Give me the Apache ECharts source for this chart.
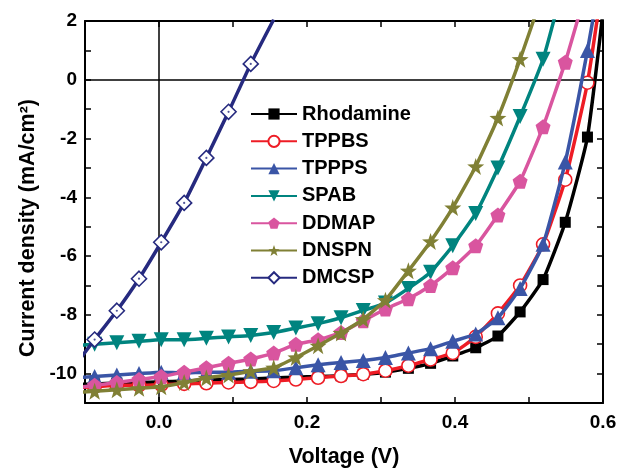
<!DOCTYPE html>
<html>
<head>
<meta charset="utf-8">
<script src="https://cdn.jsdelivr.net/npm/echarts@6/dist/echarts.min.js"></script>
<style>
html,body{margin:0;padding:0;background:#fff;}
#chart{width:619px;height:468px;}
</style>
</head>
<body>
<div id="chart"></div>
<script>
// Voltage sample points (V)
const voltage = [-0.117, -0.087, -0.057, -0.027, 0.003, 0.034, 0.064, 0.094, 0.124, 0.155, 0.185, 0.215, 0.246, 0.276, 0.306, 0.337, 0.367, 0.397, 0.428, 0.458, 0.488, 0.519, 0.549, 0.579, 0.609];
// Current density (mA/cm2) per dye
const rhodamine = [-10.37, -10.35, -10.32, -10.3, -10.28, -10.25, -10.22, -10.2, -10.18, -10.15, -10.12, -10.1, -10.07, -10.02, -9.95, -9.82, -9.65, -9.4, -9.12, -8.72, -7.9, -6.8, -4.85, -1.95, 4.3];
const tppbs = [-10.47, -10.45, -10.4, -10.4, -10.38, -10.35, -10.33, -10.3, -10.28, -10.25, -10.2, -10.14, -10.08, -10.02, -9.9, -9.73, -9.52, -9.3, -8.75, -7.95, -7.0, -5.6, -3.4, -0.1, 5.0];
const tppps = [-10.15, -10.1, -10.05, -10.0, -9.95, -9.98, -9.95, -9.95, -9.92, -9.9, -9.8, -9.7, -9.62, -9.55, -9.45, -9.3, -9.15, -8.9, -8.65, -8.1, -7.1, -5.6, -2.8, 1.0, 5.3];
const spab = [-9.05, -9.0, -8.95, -8.9, -8.85, -8.85, -8.8, -8.75, -8.7, -8.6, -8.45, -8.3, -8.1, -7.85, -7.6, -7.1, -6.55, -5.65, -4.55, -3.0, -1.25, 0.7, 3.5, null, null];
const ddmap = [-10.5, -10.4, -10.3, -10.2, -10.1, -9.95, -9.8, -9.65, -9.5, -9.3, -9.0, -8.85, -8.6, -8.2, -7.8, -7.45, -7.0, -6.4, -5.65, -4.6, -3.45, -1.6, 0.6, 3.2, null];
const dnspn = [-10.65, -10.6, -10.55, -10.5, -10.45, -10.3, -10.15, -10.05, -9.92, -9.8, -9.45, -9.05, -8.62, -8.15, -7.5, -6.5, -5.5, -4.35, -2.95, -1.3, 0.7, 2.96, null, null, null];
const dmcsp = [-9.85, -8.84, -7.86, -6.77, -5.53, -4.19, -2.66, -1.09, 0.54, 2.05, null, null, null, null, null, null, null, null, null, null, null, null, null, null, null];

const seriesNames = ['Rhodamine', 'TPPBS', 'TPPPS', 'SPAB', 'DDMAP', 'DNSPN', 'DMCSP'];
const xTicks = [-0.1, 0.6, 0.1];
const yTicks = [-11, 2, 1];

const FONT = 'Liberation Sans';
const pentagon = 'path://M0,-10L9.51,-3.09L5.88,8.09L-5.88,8.09L-9.51,-3.09Z';
const star = 'path://M0,-10L2.35,-3.24L9.51,-3.09L3.8,1.24L5.88,8.09L0,4L-5.88,8.09L-3.8,1.24L-9.51,-3.09L-2.35,-3.24Z';

function pairs(arr) {
  const out = [];
  voltage.forEach((v, i) => { if (arr[i] !== null && arr[i] !== undefined) out.push([v, arr[i]]); });
  return out;
}

const styles = [
  {data: rhodamine, color: '#000000', symbol: 'rect', size: 11},
  {data: tppbs, color: '#ee1c25', symbol: 'circle', size: 13, open: true},
  {data: tppps, color: '#3a55a6', symbol: 'triangle', size: 15},
  {data: spab, color: '#00847f', symbol: 'triangle', size: 15, rotate: 180},
  {data: ddmap, color: '#d9559f', symbol: pentagon, size: 15},
  {data: dnspn, color: '#808035', symbol: star, size: 17},
  {data: dmcsp, color: '#262a7f', symbol: 'diamond', size: 15, open: true}
];

const series = styles.map((s, i) => ({
  name: seriesNames[i],
  type: 'line',
  data: pairs(s.data),
  symbol: s.symbol,
  symbolSize: s.size,
  symbolRotate: s.rotate || 0,
  clip: true,
  smooth: 0.15,
  lineStyle: {color: s.color, width: 3.5},
  itemStyle: s.open
    ? {color: '#ffffff', borderColor: s.color, borderWidth: 1.6}
    : {color: s.color, borderWidth: 0},
  z: 3 + i
}));
// centre dots of DMCSP diamonds
series.push({
  name: 'DMCSP-dot', type: 'scatter', data: pairs(dmcsp), symbol: 'circle', symbolSize: 2.2,
  itemStyle: {color: '#262a7f'}, clip: true, silent: true, z: 20
});
// zero reference lines
series.push({
  name: 'zero', type: 'line', data: [], z: 1, silent: true,
  markLine: {
    silent: true, symbol: ['none', 'none'], label: {show: false},
    lineStyle: {color: '#000', width: 1.5, type: 'solid'},
    data: [{xAxis: 0}, {yAxis: 0}]
  }
});

const axisLine = {show: true, onZero: false, lineStyle: {color: '#000', width: 2}};
const axisTick = {show: true, inside: true, length: 6, lineStyle: {color: '#000', width: 1.5}};
const labelStyle = {color: '#000', fontFamily: FONT, fontWeight: 'bold', fontSize: 19};

const option = {
  animation: false,
  backgroundColor: '#ffffff',
  grid: {left: 85, right: 16, top: 21, bottom: 65, containLabel: false, outerBoundsMode: 'none'},
  legend: {
    data: seriesNames,
    orient: 'vertical',
    left: 245, top: 99,
    itemWidth: 46, itemHeight: 14, itemGap: 7.3,
    textStyle: {color: '#000', fontFamily: FONT, fontWeight: 'bold', fontSize: 20},
    selectedMode: false
  },
  xAxis: [{
    type: 'value', position: 'bottom', min: xTicks[0], max: xTicks[1], interval: xTicks[2],
    axisLine: axisLine, axisTick: axisTick, splitLine: {show: false},
    axisLabel: Object.assign({margin: 10, formatter: v => (Math.abs(Math.round(v * 10)) % 2 === 0 ? v.toFixed(1) : '')}, labelStyle),
    name: 'Voltage (V)', nameLocation: 'middle', nameGap: 43,
    nameTextStyle: {color: '#000', fontFamily: FONT, fontWeight: 'bold', fontSize: 21.5}
  }, {
    type: 'value', position: 'top', min: xTicks[0], max: xTicks[1], interval: xTicks[2],
    axisLine: axisLine, axisTick: axisTick, splitLine: {show: false}, axisLabel: {show: false}
  }],
  yAxis: [{
    type: 'value', position: 'left', min: yTicks[0], max: yTicks[1], interval: yTicks[2],
    axisLine: axisLine, axisTick: axisTick, splitLine: {show: false},
    axisLabel: Object.assign({margin: 8, formatter: v => (Math.round(v) % 2 === 0 ? String(v) : '')}, labelStyle),
    name: 'Current density (mA/cm²)', nameLocation: 'middle', nameGap: 46,
    nameTextStyle: {color: '#000', fontFamily: FONT, fontWeight: 'bold', fontSize: 21.5, padding: [0, 32, 0, 0]}
  }, {
    type: 'value', position: 'right', min: yTicks[0], max: yTicks[1], interval: yTicks[2],
    axisLine: axisLine, axisTick: axisTick, splitLine: {show: false}, axisLabel: {show: false}
  }],
  series: series
};

const chart = echarts.init(document.getElementById('chart'), null, {renderer: 'canvas'});
chart.setOption(option);
</script>
</body>
</html>
